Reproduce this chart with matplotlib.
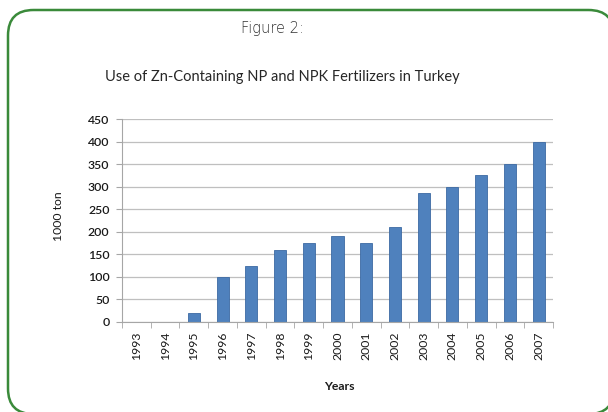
import numpy as np
import matplotlib.pyplot as plt
from matplotlib.patches import FancyBboxPatch

years = ['1993', '1994', '1995', '1996', '1997', '1998', '1999', '2000',
         '2001', '2002', '2003', '2004', '2005', '2006', '2007']
tons = [0, 0, 20, 100, 125, 160, 175, 190, 175, 210, 285, 300, 325, 350, 400]
yticks = [0, 50, 100, 150, 200, 250, 300, 350, 400, 450]

W, H = 608, 412
fig = plt.figure(figsize=(W / 100, H / 100), dpi=100)

# rounded green frame (runs off the right and bottom edges)
frame = FancyBboxPatch((8 / W, (H - 414) / H), 606 / W, 404 / H,
                       boxstyle="round,pad=0,rounding_size=0.042",
                       transform=fig.transFigure, facecolor='white',
                       edgecolor='#3a8a3a', linewidth=1.8, mutation_aspect=W / H,
                       zorder=-1)
fig.patches.append(frame)

fig.text(272 / W, 1 - 28 / H, "Figure 2:", ha='center', va='center',
         fontsize=10.5, color='#333333', family='DejaVu Sans', fontweight='light')
fig.text(282 / W, 1 - 77 / H, "Use of Zn-Containing NP and NPK Fertilizers in Turkey",
         ha='center', va='center', fontsize=10.5, color='#262626', family='Lato')

ax = fig.add_axes([122 / W, 1 - 322 / H, (553 - 122) / W, (322 - 119) / H])
ax.set_facecolor('none')
x = np.arange(len(years))
ax.bar(x, tons, width=0.42, color='#4f81bd', edgecolor='#3c6aa3', linewidth=0.6, zorder=3)

ax.set_xlim(-0.5, len(years) - 0.5)
ax.set_ylim(0, 450)
ax.set_yticks(yticks)
ax.set_xticks(x)
ax.set_xticklabels(years, rotation=90, fontsize=8.8, family='Lato', color='#1a1a1a')
ax.set_xticks(np.arange(-0.5, len(years)), minor=True)
ax.tick_params(axis='x', which='major', length=0, pad=7)
ax.tick_params(axis='x', which='minor', length=4, color='#a6a6a6')
ax.tick_params(axis='y', length=4, color='#a6a6a6', labelsize=8.8, pad=5)
for lab in ax.get_yticklabels():
    lab.set_family('Lato')
    lab.set_fontweight('semibold')
    lab.set_color('#1a1a1a')

ax.grid(axis='y', color='#bfbfbf', linewidth=0.9, zorder=0)
for s in ['top', 'right']:
    ax.spines[s].set_visible(False)
for s in ['left', 'bottom']:
    ax.spines[s].set_color('#a6a6a6')
    ax.spines[s].set_zorder(4)

fig.text(59 / W, 1 - 216 / H, "1000 ton", rotation=90, ha='center', va='center',
         fontsize=8.8, family='Lato', color='#1a1a1a')
fig.text(339 / W, 1 - 387 / H, "Years", ha='center', va='center',
         fontsize=8.8, family='Lato', fontweight='bold', color='#1a1a1a')

fig.savefig('out.png', dpi=100)
